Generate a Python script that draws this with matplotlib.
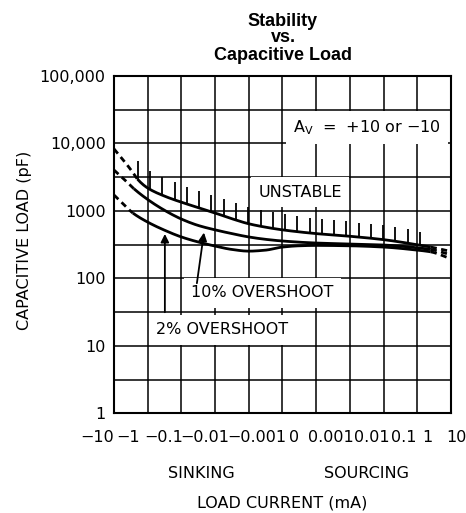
import numpy as np
import matplotlib
matplotlib.use("Agg")
import matplotlib.pyplot as plt
from matplotlib.ticker import NullFormatter

# x axis is a category-like scale: one grid column per decade of load current
xTickLabels = ["\u221210", "\u22121", "\u22120.1", "\u22120.01", "\u22120.001", "0",
               "0.001", "0.01", "0.1", "1", "10"]
xLabelPos = [-0.49, 0.43, 1.47, 2.69, 4.24, 5.34, 6.44, 7.66, 8.61, 9.29, 10.15]
yTickVals = [1, 10, 100, 1000, 10000, 100000]
yTickLabels = ["1", "10", "100", "1000", "10,000", "100,000"]

# unstable boundary (capacitive load, pF)
unstableX = [0.0, 0.3, 0.56, 0.7, 1.0, 1.5, 2.0, 2.5, 3.0, 3.5, 4.0, 4.5, 5.0, 6.0, 7.0, 8.0, 9.0, 9.4, 10.0]
unstableC = [8318, 5495, 3715, 2951, 2188, 1660, 1349, 1122, 933, 767, 646, 575, 525, 462, 422, 376, 316, 292, 251]

# 10% overshoot
os10X = [0.0, 0.3, 0.59, 1.0, 1.5, 2.0, 2.5, 3.0, 3.5, 4.0, 4.5, 5.0, 6.0, 7.0, 8.0, 9.0, 9.4, 10.0]
os10C = [4046, 2951, 2138, 1479, 1023, 759, 610, 525, 462, 412, 380, 359, 335, 324, 313, 285, 269, 224]

# 2% overshoot
os2X = [0.0, 0.3, 0.56, 1.0, 1.5, 2.0, 2.5, 3.0, 3.5, 4.0, 4.5, 5.0, 5.5, 6.0, 7.0, 8.0, 9.0, 9.4, 10.0]
os2C = [1726, 1230, 933, 684, 519, 412, 347, 302, 269, 254, 263, 292, 305, 309, 305, 292, 263, 248, 195]

# where each curve is drawn solid (dashed outside)
solidRange = {"unstable": (0.7, 9.4), "os10": (0.59, 9.4), "os2": (0.56, 9.4)}


def pchip(x, y, xs):
    x = np.asarray(x, float)
    y = np.asarray(y, float)
    h = np.diff(x)
    d = np.diff(y) / h
    m = np.zeros(len(x))
    m[0] = d[0]
    m[-1] = d[-1]
    for k in range(1, len(x) - 1):
        if d[k - 1] * d[k] > 0:
            w1 = 2 * h[k] + h[k - 1]
            w2 = h[k] + 2 * h[k - 1]
            m[k] = (w1 + w2) / (w1 / d[k - 1] + w2 / d[k])
    idx = np.clip(np.searchsorted(x, xs) - 1, 0, len(x) - 2)
    t = (xs - x[idx]) / h[idx]
    h00 = 2 * t ** 3 - 3 * t ** 2 + 1
    h10 = t ** 3 - 2 * t ** 2 + t
    h01 = -2 * t ** 3 + 3 * t ** 2
    h11 = t ** 3 - t ** 2
    return h00 * y[idx] + h10 * h[idx] * m[idx] + h01 * y[idx + 1] + h11 * h[idx] * m[idx + 1]


def smoothCurve(xs, cs, x0, x1):
    fine = np.linspace(x0, x1, 200)
    return fine, 10 ** pchip(xs, np.log10(cs), fine)


plt.rcParams['font.family'] = ['DejaVu Sans']
fs = 11.5

fig = plt.figure(figsize=(4.66, 5.13), dpi=100)
ax = fig.add_axes([0.2446, 0.1940, 0.7232, 0.6579])
ax.set_yscale("log")
ax.set_xlim(0, 10)
ax.set_ylim(1, 100000)

ax.set_xticks(range(11))
ax.set_xticklabels([])
ax.set_yticks(yTickVals)
ax.set_yticklabels(yTickLabels, fontsize=fs)
ax.set_yticks([10 ** (k / 2) for k in range(1, 10, 2)], minor=True)
ax.yaxis.set_minor_formatter(NullFormatter())
ax.tick_params(which="both", length=0)
ax.tick_params(axis="y", pad=6)
ax.grid(True, which="both", color="black", lw=1.1)
ax.set_axisbelow(True)
for s in ax.spines.values():
    s.set_linewidth(1.5)

lw = 2.0
dash = (0, (2.2, 1.6))
curves = [("unstable", unstableX, unstableC), ("os10", os10X, os10C), ("os2", os2X, os2C)]
for name, xs, cs in curves:
    a, b = solidRange[name]
    fx, fc = smoothCurve(xs, cs, a, b)
    ax.plot(fx, fc, color="black", lw=lw, solid_capstyle="butt", zorder=3)
    fx, fc = smoothCurve(xs, cs, xs[0], a)
    ax.plot(fx, fc, color="black", lw=lw, ls=dash, zorder=3)
    fx, fc = smoothCurve(xs, cs, b, xs[-1])
    ax.plot(fx, fc, color="black", lw=lw, ls=dash, zorder=3)

# hatch marks on the unstable side
hatchX = np.linspace(0.71, 9.08, 24)
hatchBase = 10 ** pchip(unstableX, np.log10(unstableC), hatchX)
hatchLen = np.linspace(0.27, 0.2, 24)
ax.vlines(hatchX, hatchBase, hatchBase * 10 ** hatchLen, color="black", lw=1.3, zorder=3)

box = dict(boxstyle="square,pad=0.45", facecolor="white", edgecolor="none")
ax.text(7.5, 10 ** 4.23, r"$\mathregular{A_V}$  =  +10 or $-$10", fontsize=fs,
        ha="center", va="center", bbox=box, zorder=4)
ax.text(5.52, 10 ** 3.28, "UNSTABLE", fontsize=fs, ha="center", va="center", bbox=box, zorder=4)
ax.text(4.4, 10 ** 1.785, "10% OVERSHOOT", fontsize=fs, ha="center", va="center", bbox=box, zorder=4)
ax.text(3.2, 10 ** 1.237, "2% OVERSHOOT", fontsize=fs, ha="center", va="center", bbox=box, zorder=5)

arrow = dict(arrowstyle="-|>", color="black", lw=1.3, mutation_scale=12, shrinkA=0, shrinkB=0)
ax.annotate("", xy=(1.51, 10 ** 2.66), xytext=(1.51, 10 ** 1.5), arrowprops=arrow, zorder=6)
ax.annotate("", xy=(2.67, 10 ** 2.68), xytext=(2.46, 10 ** 1.93), arrowprops=arrow, zorder=6)

# x tick labels as typed on the original sheet
trans = ax.get_xaxis_transform()
for p, lab in zip(xLabelPos, xTickLabels):
    ax.text(p, -0.07, lab, transform=trans, fontsize=fs, ha="center", va="center", clip_on=False)

ax.text(2.6, -0.178, "SINKING", transform=trans, fontsize=fs, ha="center", va="center")
ax.text(7.5, -0.178, "SOURCING", transform=trans, fontsize=fs, ha="center", va="center")
ax.text(5.0, -0.265, "LOAD CURRENT (mA)", transform=trans, fontsize=fs, ha="center", va="center")
fig.text(25 / 466, 1 - 240 / 513, "CAPACITIVE LOAD (pF)", rotation=90, fontsize=fs,
         ha="center", va="center")

fig.text(283 / 466, 1 - 38 / 513, "Stability\nvs.\nCapacitive Load", family="Liberation Sans",
         weight="bold", fontsize=13, ha="center", va="center", linespacing=1.0)

fig.savefig("out.png", dpi=100)
